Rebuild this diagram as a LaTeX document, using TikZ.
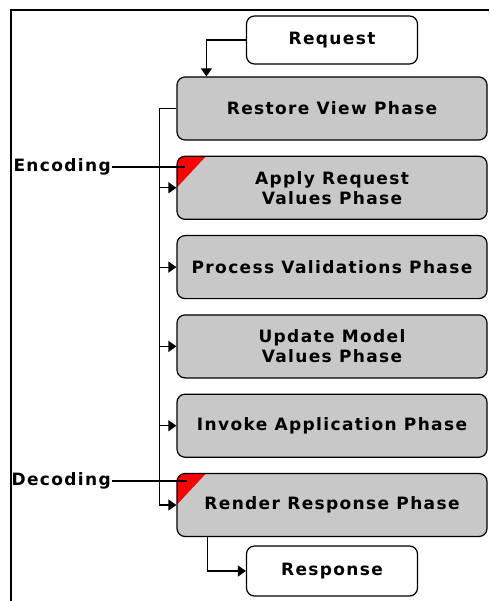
\documentclass[tikz,border=0pt]{standalone}
\usepackage{fontspec}
\newfontfamily\diafont{DejaVu Sans}[LetterSpace=8]
\usetikzlibrary{positioning,calc,arrows.meta}
\definecolor{phasegray}{RGB}{200,200,200}
\tikzset{
	phase/.style={draw, fill=phasegray, rounded corners=8pt, minimum width=310pt, minimum height=63pt, align=center},
	endpt/.style={draw, fill=white, rounded corners=8pt, minimum width=171pt, minimum height=48pt},
	marked/.style={path picture={\fill[red,sharp corners] (path picture bounding box.north west) -- ++(29pt,0) -- ++(-29pt,-31pt) -- cycle;}},
	tag/.style={inner sep=1pt},
}

\begin{document}
\begin{tikzpicture}[node distance=79.3pt, >={Triangle[length=8pt,width=11pt]}, line width=1.2pt, font=\diafont\bfseries\fontsize{17}{20}\selectfont]
		\useasboundingbox (0,0) rectangle (489pt,-601pt);
		\draw (489pt,-10pt) -- (11pt,-10pt) -- (11pt,-601pt);
		\node (restore) [phase] at (332pt,-108.5pt) {Restore View Phase};
		\node (apply) [phase,marked,below of=restore] {Apply Request\\Values Phase};
		\node (process) [phase,below of=apply] {Process Validations Phase};
		\node (update) [phase,below of=process] {Update Model\\Values Phase};
		\node (invoke) [phase,below of=update] {Invoke Application Phase};
		\node (render) [phase,marked,below of=invoke] {Render Response Phase};
		\node (request) [endpt,above of=restore,node distance=68.5pt] {Request};
		\node (response) [endpt,below of=render,node distance=66pt,minimum height=50pt] {Response};
		\node (enc) [tag,left=64pt of apply.west,yshift=21pt] {Encoding};
		\node (dec) [tag,left=64pt of render.west,yshift=24pt] {Decoding};
		\coordinate (rqin) at ($(restore.north west)+(30pt,0)$);
		\coordinate (bus) at ($(restore.west)+(-17pt,0)$);
		\coordinate (rsout) at ($(render.south west)+(31pt,0)$);
		\coordinate (encend) at ($(enc.east -| apply.west)+(9pt,0)$);
		\coordinate (decend) at ($(dec.east -| render.west)+(11pt,0)$);
		\draw[->] (request) -| (rqin);
		\draw[->] (restore) -- (bus) |- (render);
		\foreach \p in {apply,process,update,invoke}
			\draw[->] (bus |- \p.west) -- (\p);
		\draw[->] (rsout) |- (response);
		\draw[line width=2pt] (enc) -- (encend);
		\draw[line width=2pt] (dec) -- (decend);
	\end{tikzpicture}
\end{document}
